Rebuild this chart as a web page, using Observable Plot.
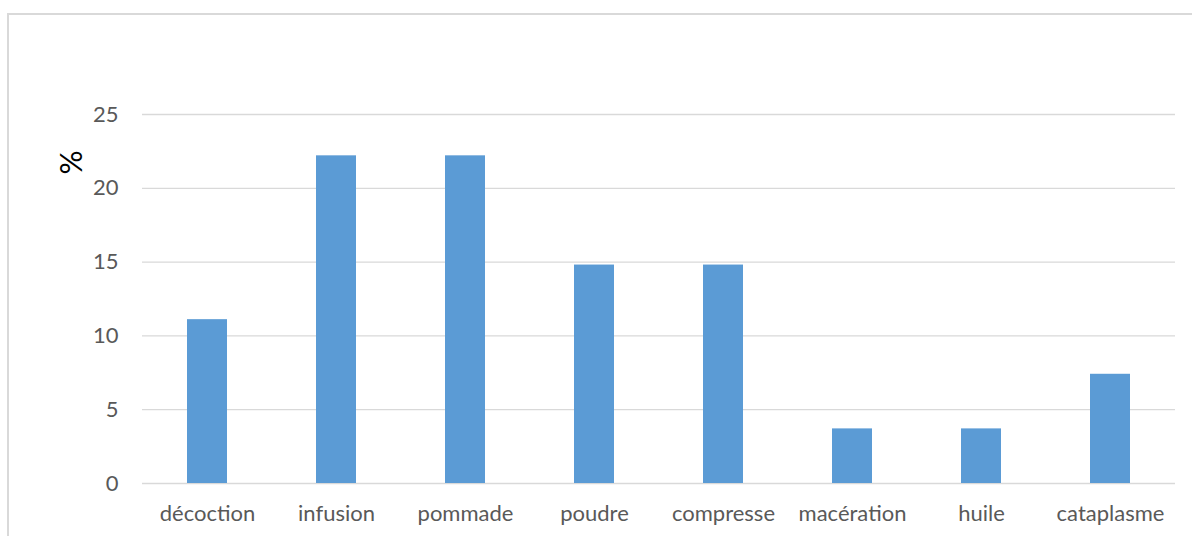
<!DOCTYPE html>
<html><head><meta charset="utf-8">
<script src="https://cdn.jsdelivr.net/npm/d3@7"></script>
<script src="https://cdn.jsdelivr.net/npm/@observablehq/plot@0.6"></script>
<style>
body{margin:0;background:#fff;}
#wrap{position:relative;width:1192px;height:536px;overflow:hidden;}
#border{position:absolute;left:7px;top:13px;width:1200px;height:540px;border:2px solid #d9d9d9;box-sizing:border-box;}
#chart{position:absolute;left:0;top:0;}
</style></head>
<body><div id="wrap"><div id="border"></div><div id="chart"></div></div>
<script>
const categories = ["décoction","infusion","pommade","poudre","compresse","macération","huile","cataplasme"];
const values = [11.1, 22.2, 22.2, 14.8, 14.8, 3.7, 3.7, 7.4];
const yTicks = [0, 5, 10, 15, 20, 25];
const yLabel = "%";
const data = categories.map((c, i) => ({cat: c, v: values[i]}));

const chart = Plot.plot({
  width: 1192, height: 536,
  marginLeft: 142, marginRight: 17, marginTop: 114, marginBottom: 53,
  style: {fontFamily: "Lato, 'Open Sans', sans-serif", fontSize: "22px", color: "#595959", background: "transparent"},
  x: {domain: categories, paddingInner: 0.69, paddingOuter: 0.345},
  y: {domain: [0, 25], ticks: yTicks},
  marks: [
    Plot.gridY(yTicks, {stroke: "#d9d9d9", strokeOpacity: 1, strokeWidth: 1.3}),
    Plot.barY(data, {x: "cat", y: "v", fill: "#5b9bd5"}),
    Plot.axisY(yTicks, {tickSize: 0, tickPadding: 24, label: null, fill: "#595959", fontSize: 22}),
    Plot.axisX({tickSize: 0, tickPadding: 22, label: null, fill: "#595959", fontSize: 22}),
    Plot.text([yLabel], {frameAnchor: "top-left", dx: -82, dy: 60, rotate: -90, fontSize: 30, fill: "#000", text: d => d})
  ]
});
document.getElementById("chart").appendChild(chart);
</script></body></html>
